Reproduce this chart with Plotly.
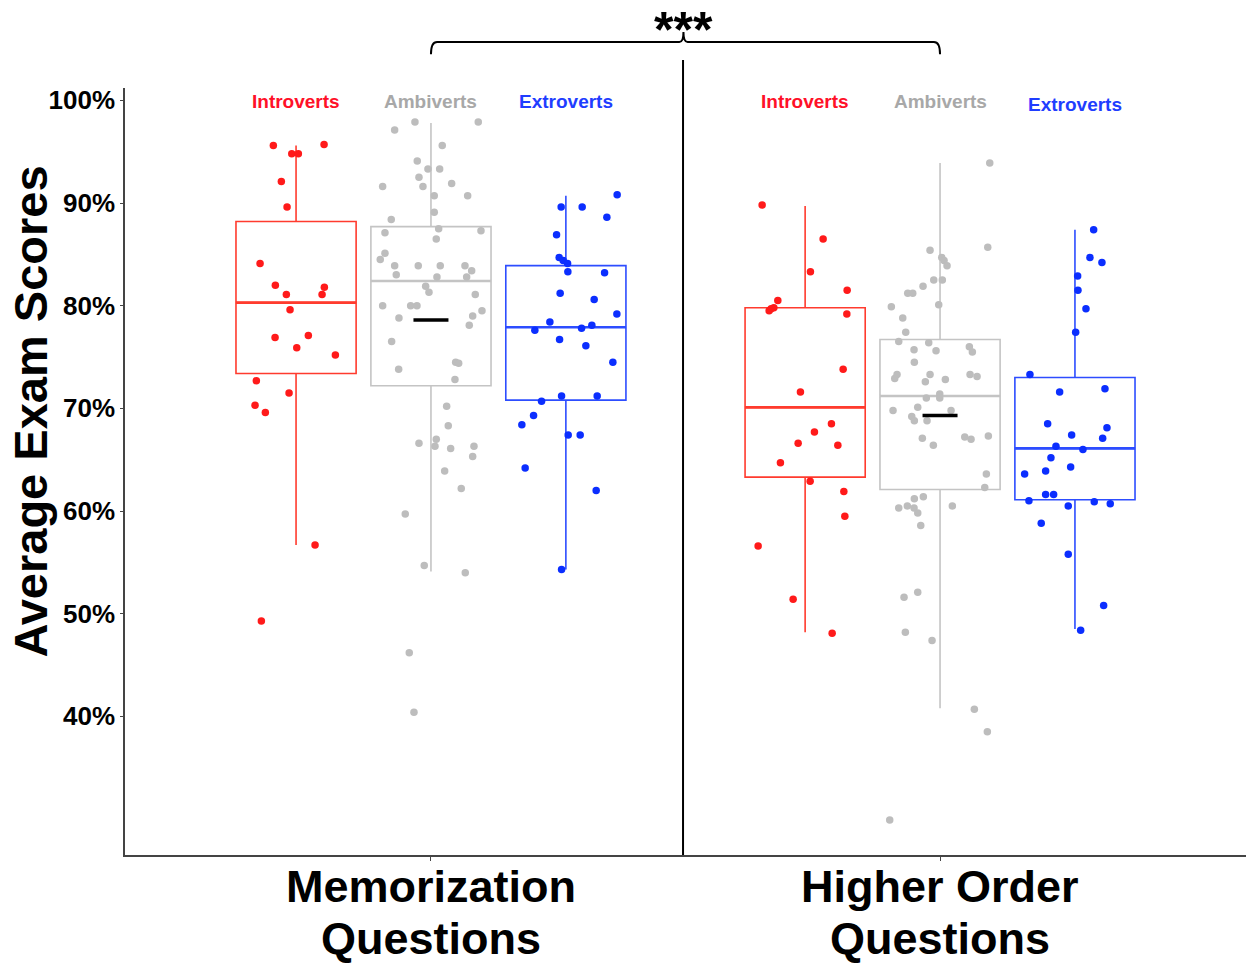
import plotly.graph_objects as go

# ---------------- data ----------------
categories = ["Memorization<br>Questions", "Higher Order<br>Questions"]
groups = ["Introverts", "Ambiverts", "Extroverts"]
y_tickvals = [40, 50, 60, 70, 80, 90, 100]
y_ticktext = ["40%", "50%", "60%", "70%", "80%", "90%", "100%"]

# box statistics, order: Mem-Intro, Mem-Ambi, Mem-Extro, High-Intro, High-Ambi, High-Extro
box_q1 = [73.4, 72.2, 70.8, 63.3, 62.1, 61.1]
box_median = [80.3, 82.4, 77.9, 70.1, 71.2, 66.1]
box_q3 = [88.2, 87.7, 83.9, 79.8, 76.7, 73.0]
box_lower = [56.7, 54.1, 54.3, 48.2, 40.8, 48.5]
box_upper = [95.6, 97.8, 90.7, 89.7, 93.9, 87.4]
ambivert_means = [78.6, 69.3]

# individual scores and horizontal jitter
mem_intro = [95.6, 94.8, 94.8, 95.7, 92.1, 89.6, 84.1, 82.0, 81.1, 81.8, 81.1, 79.6, 76.9, 77.1,
             75.9, 75.2, 72.7, 71.5, 70.3, 69.6, 56.7, 49.3]
mem_intro_jit = [-22.7, -4.3, 2.3, 28, -14.7, -9, -36, -20.7, -9.7, 28.3, 26, -6, -21, 12.3,
                 0.7, 39.3, -39.7, -7, -41, -30.7, 19, -34.7]

mem_ambi = [97.9, 97.9, 97.1, 95.6, 94.1, 93.3, 93.3, 92.5, 91.9, 91.6, 91.6, 90.7, 90.7, 89.1,
            88.4, 87.5, 87.1, 87.3, 86.5, 85.1, 84.5, 83.9, 83.9, 83.9, 83.9, 83.4, 83.0, 82.8,
            82.8, 81.9, 81.3, 81.1, 80.0, 80.0, 80.0, 79.5, 78.8, 79.0, 78.1, 76.5, 74.5, 74.4,
            73.8, 72.8, 70.2, 68.3, 67.0, 66.6, 66.3, 66.1, 66.3, 65.3, 63.9, 62.2, 59.7, 54.7,
            54.0, 46.2, 40.4]
mem_ambi_jit = [-16, 47.3, -36.3, 11.3, -13.7, -3, 8.7, -12, 20.7, -48.3, -8, 3.3, 36.7, 3.3,
                -39.7, 7.7, -46, 50, 5.3, -46, -50.7, -36.3, -12.7, 9.3, 34, 40.7, -34.7, 6,
                35.7, -5.3, -2, 44.3, -48.3, -20.3, -14, 51, -32, 41.7, 38.3, -39.3, 24.7, 27.7,
                -32.3, 24, 15.7, 17.3, 5.3, -12, 4, 19.7, 43, 41.7, 13.7, 30.3, -25.7, -6.7,
                34.3, -21.7, -17]

mem_extro = [90.8, 89.6, 89.6, 88.6, 86.9, 84.7, 84.4, 84.1, 83.3, 83.2, 81.2, 80.6, 79.2, 78.4,
             77.6, 77.8, 78.1, 76.7, 76.1, 74.5, 71.2, 71.2, 70.7, 69.3, 68.4, 67.4, 67.4, 64.2,
             62.0, 54.3]
mem_extro_jit = [51.3, -4.7, 16.3, 41, -9.3, -6.7, -2.7, 1.7, 2, 38.7, -5.7, 28.3, 51, -16,
                 -31, 15.7, 26, -6.3, 20, 47, -4.3, 31.3, -24.3, -32.3, -44, 2.3, 14.3, -40.7,
                 30.3, -4.3]

high_intro = [89.8, 86.5, 83.3, 81.5, 80.5, 79.8, 79.7, 79.5, 79.2, 73.8, 71.6, 68.5, 67.7, 66.6,
              66.4, 64.7, 62.9, 61.9, 59.5, 56.6, 51.4, 48.1]
high_intro_jit = [-43, 18, 5.3, 42, -27.3, -31.3, -34, -36, 41.7, 38, -4.7, 26.3, 9.3, -7,
                  32.7, -24.7, 5, 38.7, 39.7, -47, -12, 27]

high_ambi = [93.9, 85.7, 85.4, 84.7, 84.4, 83.9, 82.5, 82.5, 81.9, 81.2, 81.2, 79.9, 80.1, 78.8,
             77.4, 76.5, 76.4, 75.7, 75.6, 76.0, 75.5, 74.5, 73.3, 72.9, 73.3, 72.8, 72.6, 73.3,
             73.1, 71.4, 71.0, 71.0, 69.8, 70.1, 69.8, 69.2, 68.8, 68.8, 67.1, 66.4, 67.2, 67.0,
             67.3, 63.6, 62.3, 61.4, 61.2, 60.3, 60.5, 60.3, 59.8, 60.5, 58.6, 52.1, 51.6, 48.2,
             47.4, 40.7, 38.5, 29.9]
high_ambi_jit = [49.7, 47.7, -10, 1.7, 4, 7, -6.3, 2.3, -17, -32.3, -27.3, -48.7, -1.3, -37.3,
                 -34.3, -41.3, -11.3, -26, -4, 29.3, 32.3, -25.7, -43, -45.3, -10, 5.3, -14.7, 30,
                 37, -0.3, -0.3, -13.7, -47, -22.3, 11, -28.3, -25.7, -13, -17.7, -6.7, 24.7, 31,
                 48.3, 46.3, 44.7, -16.7, -25.7, -41.3, -32.7, -26, -22.3, 12.3, -19.3, -22.3, -36,
                 -34.7, -8, 34.3, 47.3, -50.3]

high_extro = [87.4, 84.7, 84.2, 82.9, 81.5, 79.7, 77.4, 73.3, 71.6, 71.9, 68.5, 68.1, 67.4, 67.1,
              66.3, 66.0, 65.2, 64.3, 63.6, 63.9, 61.6, 61.6, 61.0, 60.5, 60.9, 60.7, 58.8, 55.8,
              50.8, 48.4]
high_extro_jit = [18.7, 15, 27, 2.7, 3, 11, 0.7, -45, -15.3, 30, -27.3, 32, -3.3, 27.7,
                  -19, 8, -24, -4.3, -50.3, -29.3, -29.3, -21.3, -46, -6.7, 19.3, 35.3, -33.7, -6.7,
                  28.7, 5.7]

# ---------------- styling ----------------
FONT = "Liberation Sans, Arial, Helvetica, sans-serif"
box_colors = ["#FF3B2E", "#C4C4C4", "#2D4DFF"]
point_colors = ["#FF1A1A", "#BDBDBD", "#0B2EFF"]
label_colors = ["#FF1028", "#A8A8A8", "#1F3DFF"]
GROUP_OFFSET = 0.265
BOX_W = 0.236
MEDIAN_MARK = 86   # line-ew marker size matching the box width
MEAN_MARK = 25
JIT_SCALE = 1 / 509.0

points = [[(mem_intro, mem_intro_jit), (mem_ambi, mem_ambi_jit), (mem_extro, mem_extro_jit)],
          [(high_intro, high_intro_jit), (high_ambi, high_ambi_jit), (high_extro, high_extro_jit)]]

fig = go.Figure()

for ci in range(2):
    for gi in range(3):
        idx = ci * 3 + gi
        pos = ci + (gi - 1) * GROUP_OFFSET
        fig.add_trace(go.Box(
            x=[pos], q1=[box_q1[idx]], median=[box_median[idx]], q3=[box_q3[idx]],
            lowerfence=[box_lower[idx]], upperfence=[box_upper[idx]],
            width=BOX_W, whiskerwidth=0, boxpoints=False,
            line=dict(color=box_colors[gi], width=1.6),
            fillcolor="rgba(255,255,255,0)", hoverinfo="skip", showlegend=False))
        # thicker median bar
        fig.add_trace(go.Scatter(
            x=[pos], y=[box_median[idx]], mode="markers",
            marker=dict(symbol="line-ew", size=MEDIAN_MARK, line=dict(color=box_colors[gi], width=2.6)),
            hoverinfo="skip", showlegend=False))

for ci in range(2):
    for gi in range(3):
        pos = ci + (gi - 1) * GROUP_OFFSET
        ys, js = points[ci][gi]
        fig.add_trace(go.Scatter(
            x=[pos + j * JIT_SCALE for j in js], y=ys, mode="markers",
            marker=dict(color=point_colors[gi], size=7.5, line=dict(width=0)),
            hoverinfo="skip", showlegend=False))

# means (ambiverts only)
fig.add_trace(go.Scatter(
    x=[0, 1], y=ambivert_means, mode="markers",
    marker=dict(symbol="line-ew", size=MEAN_MARK, line=dict(color="black", width=3.5)),
    hoverinfo="skip", showlegend=False))

# group labels
label_y = [[0.983, 0.983, 0.983], [0.983, 0.983, 0.979]]
for ci in range(2):
    for gi in range(3):
        pos = ci + (gi - 1) * GROUP_OFFSET
        fig.add_annotation(x=pos, y=label_y[ci][gi], xref="x", yref="paper",
                           text="<b>%s</b>" % groups[gi], showarrow=False,
                           font=dict(family=FONT, size=19, color=label_colors[gi]),
                           xanchor="center", yanchor="middle")

# category labels (two lines each)
line_y = [-0.0417, -0.1095]
for ci, cat in enumerate(categories):
    for li, part in enumerate(cat.split("<br>")):
        fig.add_annotation(x=ci, y=line_y[li], xref="x", yref="paper",
                           text="<b>%s</b>" % part, showarrow=False,
                           font=dict(family=FONT, size=45, color="black"),
                           xanchor="center", yanchor="middle")

# divider between panels
fig.add_shape(type="line", xref="paper", yref="paper", x0=0.4978, x1=0.4978, y0=0, y1=1.0365,
              line=dict(color="black", width=2))

# significance bracket
fig.add_shape(type="path", xref="x", yref="paper",
              path="M 0,1.044 Q 0,1.06 0.012,1.06 L 0.488,1.06 Q 0.496,1.06 0.496,1.073 "
                   "Q 0.496,1.06 0.504,1.06 L 0.988,1.06 Q 1,1.06 1,1.044",
              line=dict(color="black", width=2))
fig.add_annotation(x=0.496, y=1.0756, xref="x", yref="paper", text="<b>***</b>",
                   showarrow=False, font=dict(family=FONT, size=50, color="black"),
                   xanchor="center", yanchor="middle")

# y-axis title
fig.add_annotation(x=-0.084, y=0.578, xref="paper", yref="paper",
                   text="<b>Average Exam Scores</b>", textangle=-90, showarrow=False,
                   font=dict(family=FONT, size=47, color="black"),
                   xanchor="center", yanchor="middle")

fig.update_layout(
    width=1246, height=966,
    margin=dict(l=125, r=0, t=88, b=111, autoexpand=False),
    plot_bgcolor="white", paper_bgcolor="white", showlegend=False,
    font=dict(family=FONT, color="black"),
    xaxis=dict(range=[-0.601, 1.601], tickvals=[0, 1], ticktext=["", ""], automargin=False,
               showline=True, linecolor="#444444", linewidth=1.5, ticks="outside", ticklen=4,
               tickcolor="#444444", showgrid=False, zeroline=False),
    yaxis=dict(range=[26.5, 101.2], tickvals=y_tickvals, ticktext=["<b>%s</b>" % t for t in y_ticktext],
               automargin=False,
               showline=True, linecolor="#444444", linewidth=1.5, ticks="outside", ticklen=3,
               tickcolor="#444444", showgrid=False, zeroline=False,
               tickfont=dict(family=FONT, size=26, color="black")),
)

fig.write_html("out.html")
